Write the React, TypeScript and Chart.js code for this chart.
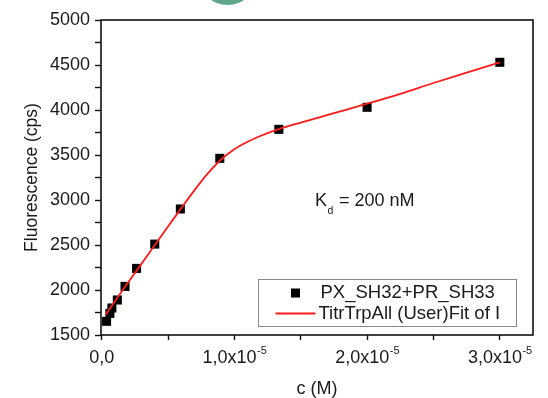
import React, { useEffect, useRef } from 'react';
import { Chart, registerables } from 'chart.js';

Chart.register(...registerables);

// ---- data ----
const concM = [0.37e-6, 0.62e-6, 0.77e-6, 1.18e-6, 1.76e-6, 2.63e-6, 4.0e-6, 5.93e-6, 8.9e-6, 13.35e-6, 20e-6, 30e-6];
const fluorescence = [1652, 1740, 1800, 1889, 2040, 2240, 2510, 2900, 3463, 3785, 4030, 4530];

const fitConcM = [0.3e-6, 1e-6, 2e-6, 3e-6, 4e-6, 5e-6, 6e-6, 7e-6, 8e-6, 9e-6, 10e-6, 11e-6, 12e-6, 13.3e-6, 15e-6, 17.5e-6, 20e-6, 22.5e-6, 25e-6, 27.5e-6, 30e-6];
const fitFluorescence = [1725, 1875, 2085, 2290, 2500, 2705, 2910, 3110, 3295, 3450, 3565, 3648, 3714, 3785, 3860, 3965, 4070, 4180, 4300, 4415, 4530];

const seriesLabels = ['PX_SH32+PR_SH33', 'TitrTrpAll (User)Fit of I'];

const yTickValues = [1500, 1750, 2000, 2250, 2500, 2750, 3000, 3250, 3500, 3750, 4000, 4250, 4500, 4750, 5000];
const yTickLabels = ['1500', '', '2000', '', '2500', '', '3000', '', '3500', '', '4000', '', '4500', '', '5000'];

const xTickValues = [0, 5e-6, 1e-5, 1.5e-5, 2e-5, 2.5e-5, 3e-5];
const xTickMantissa = ['0,0', '', '1,0x10', '', '2,0x10', '', '3,0x10'];
const xTickExponent = ['', '', '-5', '', '-5', '', '-5'];

const annotationMain = 'K';
const annotationSub = 'd';
const annotationRest = ' = 200 nM';
const annotationAt = { x: 1.608e-5, y: 2985 };

const FONT = '"Liberation Sans", Arial, Helvetica, sans-serif';
const TEXT = '#1a1a1a';
const TICK_SIZE = 18;
const LEGEND_SIZE = 18.5;

const customPlugin = {
  id: 'customDraw',
  beforeDraw(chart: any) {
    const { ctx } = chart;
    ctx.save();
    ctx.fillStyle = '#5fa68a';
    ctx.beginPath();
    ctx.arc(227.5, -24.7, 29.7, 0, Math.PI * 2);
    ctx.fill();
    ctx.restore();
  },
  afterDraw(chart: any) {
    const { ctx, chartArea: a, scales } = chart;
    const xs = scales.x;
    const ys = scales.y;
    ctx.save();
    // frame
    ctx.strokeStyle = '#111';
    ctx.lineWidth = 1.6;
    ctx.strokeRect(a.left, a.top, a.right - a.left, a.bottom - a.top);

    // x tick labels with superscript
    ctx.fillStyle = TEXT;
    ctx.textBaseline = 'middle';
    ctx.textAlign = 'left';
    xTickValues.forEach((v, i) => {
      const m = xTickMantissa[i];
      if (!m) return;
      const e = xTickExponent[i];
      ctx.font = `${TICK_SIZE}px ${FONT}`;
      const mw = ctx.measureText(m).width;
      ctx.font = `11px ${FONT}`;
      const ew = e ? ctx.measureText(e).width : 0;
      const px = xs.getPixelForValue(v);
      const x0 = px - (mw + ew) / 2;
      const y = a.bottom + 23;
      ctx.font = `${TICK_SIZE}px ${FONT}`;
      ctx.fillText(m, x0, y);
      if (e) {
        ctx.font = `11px ${FONT}`;
        ctx.fillText(e, x0 + mw + 0.5, y - 7);
      }
    });

    // annotation Kd
    const ax = xs.getPixelForValue(annotationAt.x);
    const ay = ys.getPixelForValue(annotationAt.y);
    ctx.font = `18px ${FONT}`;
    ctx.fillText(annotationMain, ax, ay);
    const kw = ctx.measureText(annotationMain).width;
    ctx.font = `10.5px ${FONT}`;
    ctx.fillText(annotationSub, ax + kw + 0.5, ay + 10);
    const dw = ctx.measureText(annotationSub).width;
    ctx.font = `18px ${FONT}`;
    ctx.fillText(annotationRest, ax + kw + dw + 1, ay);

    // legend
    const ds = chart.data.datasets;
    const lw = 258;
    const lh = 47;
    const lx = Math.round(a.right - 17 - lw) + 0.5;
    const ly = Math.round(a.bottom - 9 - lh) + 0.5;
    ctx.fillStyle = '#ffffff';
    ctx.fillRect(lx, ly, lw, lh);
    ctx.strokeStyle = '#8a8a8a';
    ctx.lineWidth = 1;
    ctx.strokeRect(lx, ly, lw, lh);
    const r1 = ly + 13.5;
    const r2 = ly + 34;
    ctx.fillStyle = ds[1].backgroundColor;
    ctx.fillRect(lx + 37 - 4.5, r1 - 4.5, 9, 9);
    ctx.strokeStyle = ds[0].borderColor;
    ctx.lineWidth = 2;
    ctx.beginPath();
    ctx.moveTo(lx + 17, r2);
    ctx.lineTo(lx + 57, r2);
    ctx.stroke();
    ctx.fillStyle = TEXT;
    ctx.font = `${LEGEND_SIZE}px ${FONT}`;
    ctx.fillText(ds[1].label, lx + 62, r1);
    ctx.fillText(ds[0].label, lx + 60, r2);
    ctx.restore();
  },
};

export default function App() {
  const ref = useRef<HTMLCanvasElement | null>(null);

  useEffect(() => {
    if (!ref.current) return;
    const chart = new Chart(ref.current, {
      type: 'scatter',
      data: {
        datasets: [
          {
            type: 'line',
            label: seriesLabels[1],
            data: fitConcM.map((x, i) => ({ x, y: fitFluorescence[i] })),
            borderColor: '#ff1a1a',
            backgroundColor: '#ff1a1a',
            borderWidth: 1.8,
            pointRadius: 0,
            tension: 0.4,
            cubicInterpolationMode: 'monotone',
            fill: false,
            order: 0,
          } as any,
          {
            type: 'scatter',
            label: seriesLabels[0],
            data: concM.map((x, i) => ({ x, y: fluorescence[i] })),
            pointStyle: 'rect',
            pointRadius: 6.4,
            backgroundColor: '#000000',
            borderColor: '#000000',
            borderWidth: 0,
            order: 1,
          } as any,
        ],
      },
      plugins: [customPlugin],
      options: {
        animation: false,
        responsive: false,
        devicePixelRatio: 1,
        layout: { padding: { top: 20, right: 15, bottom: 0, left: 0 } },
        plugins: {
          legend: { display: false },
          tooltip: { enabled: false },
        },
        scales: {
          x: {
            type: 'linear',
            min: -5e-8,
            max: 3.25e-5,
            afterBuildTicks: (s: any) => {
              s.ticks = xTickValues.map((v) => ({ value: v }));
            },
            afterFit: (s: any) => {
              s.height = 63;
            },
            ticks: {
              autoSkip: false,
              maxRotation: 0,
              callback: () => '',
            },
            grid: {
              drawOnChartArea: false,
              drawTicks: true,
              tickLength: 5,
              tickColor: '#111',
              tickWidth: 1.4,
            },
            border: { display: false },
            title: {
              display: true,
              text: 'c (M)',
              color: TEXT,
              font: { family: FONT, size: 18, lineHeight: 1 },
              padding: { top: 0, bottom: 0 },
            },
          },
          y: {
            type: 'linear',
            min: 1500,
            max: 5000,
            afterBuildTicks: (s: any) => {
              s.ticks = yTickValues.map((v) => ({ value: v }));
            },
            afterFit: (s: any) => {
              s.width = 101;
            },
            ticks: {
              autoSkip: false,
              padding: 5,
              color: TEXT,
              font: { family: FONT, size: TICK_SIZE },
              callback: (_v: any, i: number) => yTickLabels[i],
            },
            grid: {
              drawOnChartArea: false,
              drawTicks: true,
              tickLength: 6,
              tickColor: '#111',
              tickWidth: 1.4,
            },
            border: { display: false },
            title: {
              display: true,
              text: 'Fluorescence (cps)',
              color: TEXT,
              font: { family: FONT, size: 17.5, lineHeight: 1.2 },
              padding: { top: 21.5, bottom: 0 },
            },
          },
        },
      } as any,
    });
    return () => chart.destroy();
  }, []);

  return (
    <div style={{ position: 'absolute', left: 0, top: 0, width: 548, height: 398, background: '#fff' }}>
      <canvas ref={ref} width={548} height={398} style={{ width: 548, height: 398, display: 'block' }} />
    </div>
  );
}
